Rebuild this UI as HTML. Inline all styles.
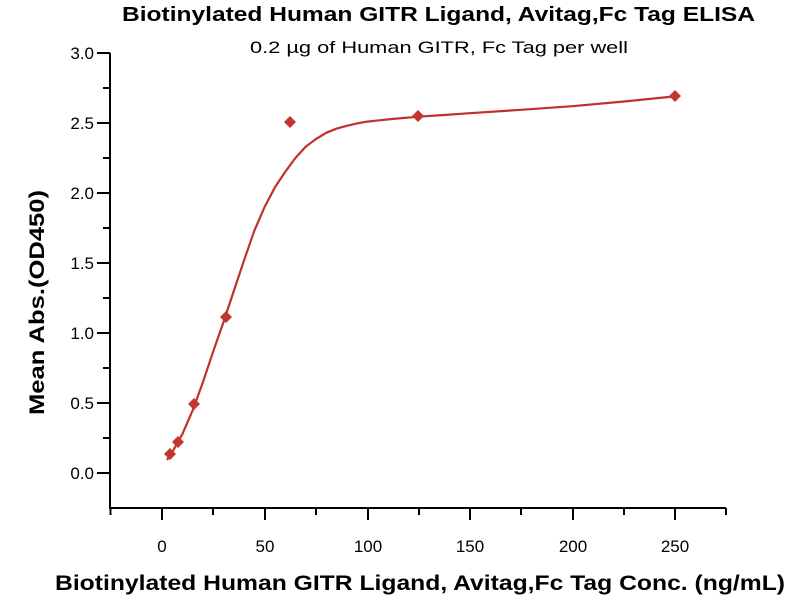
<!DOCTYPE html>
<html><head><style>body{margin:0;background:#fff}svg{display:block}</style></head><body>
<svg width="800" height="600" xmlns="http://www.w3.org/2000/svg" font-family="Liberation Sans, sans-serif">
<text x="122" y="21" font-size="20" font-weight="bold" textLength="633" lengthAdjust="spacingAndGlyphs">Biotinylated Human GITR Ligand, Avitag,Fc Tag ELISA</text>
<text x="250" y="53" font-size="17" textLength="378" lengthAdjust="spacingAndGlyphs">0.2 µg of Human GITR, Fc Tag per well</text>
<g stroke="#000" stroke-width="2" fill="none">
<path d="M110,53 V508 H726"/>
<path d="M97,53H110M97,123H110M97,193H110M97,263H110M97,333H110M97,403H110M97,473H110"/>
<path d="M103,88H110M103,158H110M103,228H110M103,298H110M103,368H110M103,438H110"/>
<path d="M162,508V520M265,508V520M368,508V520M470,508V520M573,508V520M675,508V520"/>
<path d="M110.5,508V515M213,508V515M316,508V515M419,508V515M521,508V515M624,508V515M726,508V515"/>
</g>
<g font-size="17" text-anchor="end">
<text x="94" y="59">3.0</text><text x="94" y="129">2.5</text><text x="94" y="199">2.0</text><text x="94" y="269">1.5</text><text x="94" y="339">1.0</text><text x="94" y="409">0.5</text><text x="94" y="479">0.0</text>
</g>
<g font-size="17" text-anchor="middle">
<text x="162" y="552">0</text><text x="265" y="552">50</text><text x="368" y="552">100</text><text x="470" y="552">150</text><text x="573" y="552">200</text><text x="675" y="552">250</text>
</g>
<text transform="translate(44,415) rotate(-90)" font-size="21" font-weight="bold" textLength="225" lengthAdjust="spacingAndGlyphs">Mean Abs.(OD450)</text>
<text x="55" y="590" font-size="21" font-weight="bold" textLength="730" lengthAdjust="spacingAndGlyphs">Biotinylated Human GITR Ligand, Avitag,Fc Tag Conc. (ng/mL)</text>
<polyline points="167,460 172.3,452 182.5,433.8 192.8,410 203,382 213.3,351.2 223.6,321.8 233.8,291 244.1,260.2 254.3,230.8 264.6,207 274.9,187.4 285.1,172 295.4,158 305.6,146.8 316,139 326.2,132.8 336,128.8 346.7,125.8 357,123.4 367.2,121.6 392,119 418.5,116.7 444,115 469.8,113.2 521,109.8 572.4,106.2 624,101.5 675,96.4" stroke="#c0302c" stroke-width="2.2" fill="none" stroke-linejoin="round"/>
<g fill="#c43530">
<path d="M170,448l6,6-6,6-6-6z"/>
<path d="M178,436l6,6-6,6-6-6z"/>
<path d="M194,398l6,6-6,6-6-6z"/>
<path d="M226,311l6,6-6,6-6-6z"/>
<path d="M290,116l6,6-6,6-6-6z"/>
<path d="M418,110l6,6-6,6-6-6z"/>
<path d="M675,90l6,6-6,6-6-6z"/>
</g>
</svg>
</body></html>
